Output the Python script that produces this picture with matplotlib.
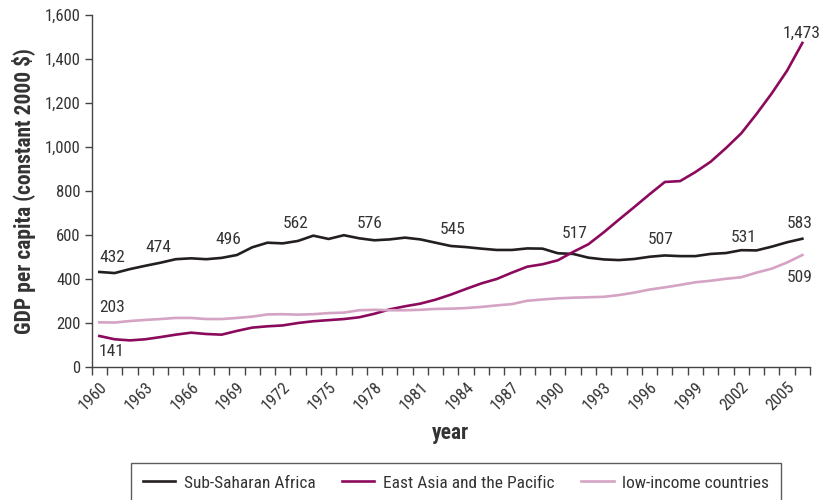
import matplotlib
matplotlib.use('Agg')
import matplotlib.pyplot as plt
import numpy as np

years = list(range(1960, 2007))

ssa = [432, 427, 445, 460, 474, 490, 494, 490, 496, 509,
       544, 565, 562, 573, 597, 582, 599, 585, 576, 580,
       588, 580, 565, 550, 545, 538, 532, 532, 539, 538,
       517, 514, 497, 489, 486, 491, 501, 507, 504, 504,
       514, 518, 531, 530, 547, 567, 583]
eap = [141, 126, 121, 126, 136, 147, 156, 150, 147, 164,
       179, 185, 189, 200, 208, 213, 218, 226, 242, 262,
       276, 288, 306, 329, 355, 380, 400, 429, 456, 467,
       485, 523, 558, 612, 670, 727, 785, 841, 845, 886,
       933, 995, 1062, 1150, 1244, 1347, 1473]
lic = [203, 202, 209, 214, 218, 223, 223, 218, 218, 223,
       229, 239, 240, 238, 240, 245, 247, 258, 260, 258,
       258, 260, 264, 265, 268, 273, 280, 286, 301, 307,
       312, 315, 317, 319, 327, 338, 352, 362, 373, 385,
       392, 401, 408, 429, 447, 475, 509]

names = ['Sub-Saharan Africa', 'East Asia and the Pacific', 'low-income countries']
colors = ['#231f20', '#8c0a5c', '#d5a3c3']

# value labels: (text, left pixel x, centre pixel y)
labels = [('432', 99, 257), ('474', 145, 248), ('496', 216, 240),
          ('562', 283, 224), ('576', 357, 224), ('545', 440, 229),
          ('517', 562, 233), ('507', 648, 240), ('531', 731, 237),
          ('583', 788, 223), ('1,473', 783, 33), ('509', 788, 278),
          ('203', 99, 308), ('141', 99, 351)]

plt.rcParams['font.family'] = ['Roboto Condensed', 'DejaVu Sans']
txt = '#333333'

fig = plt.figure(figsize=(8.22, 5), dpi=100)
ax = fig.add_axes([91.7 / 822, 133 / 500, (810 - 91.7) / 822, 352 / 500])

x = np.arange(len(years))
for series, name, c in zip([ssa, eap, lic], names, colors):
    ax.plot(x, series, color=c, lw=1.9, label=name, solid_joinstyle='round')

ax.set_xlim(-0.5, len(years) - 0.5)
ax.set_ylim(0, 1600)
ax.set_yticks(range(0, 1601, 200))
ax.set_yticklabels(['{:,}'.format(v) for v in range(0, 1601, 200)], fontsize=12, color=txt)

ax.set_xticks(x[::3])
ax.set_xticklabels([str(y) for y in years[::3]], rotation=45, ha='right',
                   rotation_mode='anchor', fontsize=12, color=txt)
ax.set_xticks(np.arange(-0.5, len(years)), minor=True)
ax.tick_params(axis='x', which='major', length=0, pad=9)
ax.tick_params(axis='x', which='minor', length=6, width=1, color='#444444')
ax.tick_params(axis='y', length=5, width=1, color='#444444', pad=3)

for s in ['top', 'right']:
    ax.spines[s].set_visible(False)
for s in ['left', 'bottom']:
    ax.spines[s].set_color('#444444')
    ax.spines[s].set_linewidth(1)

ax.set_xlabel('year', fontsize=15.5, fontweight='bold', color=txt, labelpad=6)
ax.set_ylabel('GDP per capita (constant 2000 $)', fontsize=15.5, fontweight='bold',
              color=txt, labelpad=6)

for t, px, py in labels:
    xd = (px - 91.7) / 15.3 - 0.5
    yd = (367 - py) / 0.22
    ax.text(xd, yd, t, ha='left', va='center', fontsize=12.5, color=txt)

leg = fig.legend(loc='center', bbox_to_anchor=(456 / 822, 1 - 483 / 500), ncol=3,
                 fontsize=12.5, frameon=True, fancybox=False, edgecolor='#333333',
                 handlelength=1.85, handletextpad=0.5, columnspacing=1.55,
                 borderpad=0.7)
leg.get_frame().set_linewidth(1)
for t in leg.get_texts():
    t.set_color(txt)

fig.savefig('out.png', dpi=100)
